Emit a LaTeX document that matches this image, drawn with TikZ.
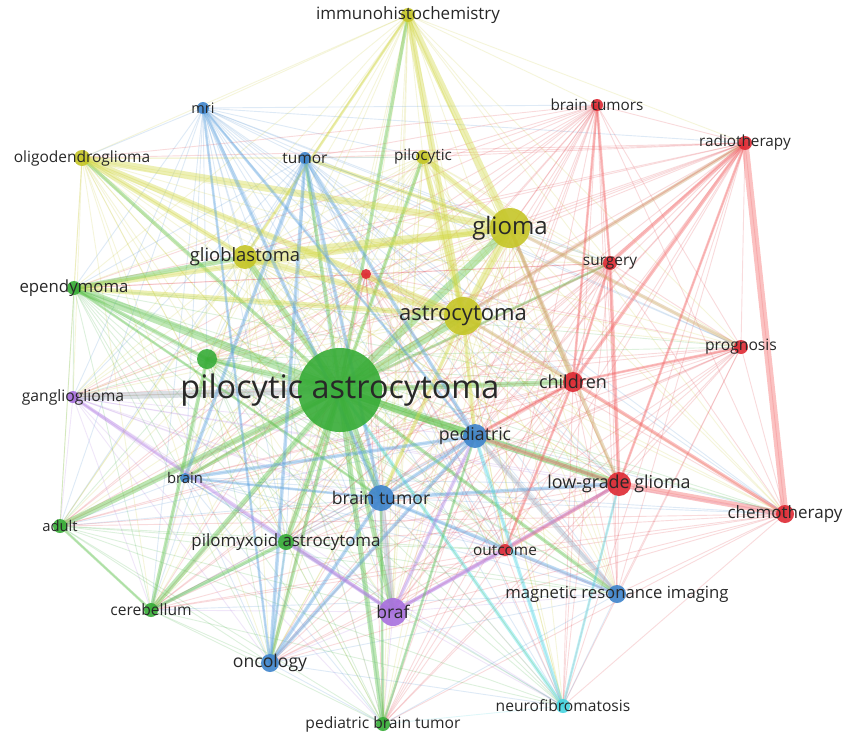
\documentclass[tikz,border=0pt]{standalone}
\usepackage{fontspec}
\setmainfont{Open Sans}
\pgfdeclarelayer{bg}
\pgfsetlayers{bg,main}
\definecolor{vyel}{RGB}{198,198,40}
\definecolor{vgreen}{RGB}{55,172,55}
\definecolor{vblue}{RGB}{62,132,204}
\definecolor{vred}{RGB}{222,42,52}
\definecolor{vpurp}{RGB}{168,112,222}
\definecolor{vcyan}{RGB}{70,212,224}
\definecolor{labc}{RGB}{40,40,40}
\definecolor{eyel}{RGB}{212,218,70}
\definecolor{egreen}{RGB}{95,195,75}
\definecolor{eblue}{RGB}{95,165,225}
\definecolor{ered}{RGB}{245,100,100}
\definecolor{epurp}{RGB}{185,135,232}
\definecolor{ecyan}{RGB}{80,222,232}
\definecolor{egray}{RGB}{168,178,192}
\definecolor{etan}{RGB}{205,165,110}
\tikzset{
  vn/.style={circle, inner sep=0pt, minimum size=#1, draw=none},
  lab/.style={text=labc, inner sep=0pt, font=\fontsize{#1}{#1}\selectfont},
  faint/.style={line width=0.9pt, opacity=0.17},
  heavy/.style={opacity=0.4, line cap=round},
}
\begin{document}
\begin{tikzpicture}[x=1pt,y=-1pt]
\useasboundingbox (0,0) rectangle (844,739);
% nodes
\foreach \id/\x/\y/\r/\c/\t/\s in {
 ihc/408/15/7/vyel/immunohistochemistry/17,
 mri/203/108/6/vblue/mri/14.5,
 btumors/597/105/6/vred/brain tumors/15.3,
 radio/745/143/7/vred/radiotherapy/15.3,
 oligo/82/158/8/vyel/oligodendroglioma/15.5,
 tumor/305/158/6/vblue/tumor/15.5,
 piloc/423/157/7/vyel/pilocytic/15.3,
 glioma/510/228/20/vyel/glioma/24,
 gbm/245/257/12/vyel/glioblastoma/18.4,
 surgery/610/263/7/vred/surgery/15.4,
 rdot/366/274/5/vred/{}/14,
 epend/74/288/7/vgreen/ependymoma/16.8,
 astro/463/316/19/vyel/astrocytoma/22,
 gdot/207/359/10/vgreen/{}/14,
 progn/741/347/7/vred/prognosis/15.7,
 pa/340/390/42/vgreen/pilocytic astrocytoma/32.4,
 children/573/382/10/vred/children/18,
 gang/73/397/6/vpurp/ganglioglioma/15.7,
 ped/475/436/12/vblue/pediatric/17.7,
 brain/185/478/5/vblue/brain/14.8,
 btumor/381/498/13/vblue/brain tumor/17.6,
 lgg/619/484/12/vred/low-grade glioma/17.9,
 chemo/785/514/9/vred/chemotherapy/17,
 adult/60/526/7/vgreen/adult/14.8,
 pmxa/286/542/8/vgreen/pilomyxoid astrocytoma/16.9,
 outcome/505/550/6/vred/outcome/15.4,
 braf/393/612/14/vpurp/braf/17.5,
 mrimg/617/594/9/vblue/magnetic resonance imaging/16.7,
 cereb/151/610/7/vgreen/cerebellum/15.6,
 onc/270/663/9/vblue/oncology/17.6,
 nf/563/706/7/vcyan/neurofibromatosis/15.6,
 pbt/383/724/7/vgreen/pediatric brain tumor/15.6}{
 \xglobal\colorlet{col-\id}{\c}
 \node[vn=\r*2pt, fill=\c, opacity=0.9] (\id) at (\x,\y) {};
 \node[lab=\s] (\id-l) at (\x,\y) {\t};
}
\begin{pgfonlayer}{bg}
\fill[white] (0,0) rectangle (844,739);
% faint network of all pairs
\foreach \a [count=\i] in {ihc,mri,btumors,radio,oligo,tumor,piloc,glioma,gbm,surgery,rdot,epend,astro,gdot,progn,pa,children,gang,ped,brain,btumor,lgg,chemo,adult,pmxa,outcome,braf,mrimg,cereb,onc,nf,pbt}{
  \foreach \b [count=\j] in {ihc,mri,btumors,radio,oligo,tumor,piloc,glioma,gbm,surgery,rdot,epend,astro,gdot,progn,pa,children,gang,ped,brain,btumor,lgg,chemo,adult,pmxa,outcome,braf,mrimg,cereb,onc,nf,pbt}{
    \ifnum\j>\i
      \draw[faint, draw=col-\a] (\a.center) -- (\b.center);
    \fi
  }
}
% heavier links
\foreach \a/\b/\w/\c in {
 pa/glioma/8/egreen, pa/astro/8/egreen, pa/gbm/6/egreen, pa/epend/8/egreen,
 pa/oligo/3.5/egreen, pa/gang/7/egray, pa/adult/6/egreen, pa/cereb/5/egreen,
 pa/pmxa/5/egreen, pa/btumor/5/egreen, pa/ped/7/egreen, pa/children/5/egreen,
 pa/lgg/7/egreen, pa/braf/5/egreen, pa/onc/3.5/egreen, pa/pbt/5/egreen,
 pa/ihc/3.5/egreen, pa/piloc/3.5/egreen, pa/tumor/3.5/egreen, pa/gdot/5/egreen,
 pa/mrimg/3.5/egreen, pa/nf/3.5/ecyan, pa/surgery/2.5/egreen, pa/brain/3.5/egreen,
 glioma/gbm/8/eyel, glioma/ihc/7/eyel, glioma/astro/7/eyel, glioma/oligo/7/eyel,
 glioma/epend/5/eyel, glioma/piloc/5/eyel, glioma/children/3.5/etan, glioma/lgg/3.5/etan,
 glioma/tumor/3.5/eyel, glioma/progn/3.5/etan,
 astro/gbm/6/eyel, astro/ihc/6/eyel, astro/oligo/6/eyel, astro/epend/5/eyel,
 astro/piloc/5/eyel, astro/children/3.5/etan, astro/ped/3.5/eyel, astro/radio/3.5/etan,
 astro/btumor/3.5/eyel,
 gbm/epend/5/egreen, gbm/oligo/5/eyel, gbm/ihc/2.5/eyel,
 epend/gdot/3.5/egreen, epend/btumor/2.5/egreen,
 chemo/radio/7/ered, chemo/lgg/6/ered, chemo/children/3.5/ered, radio/children/3.5/ered,
 radio/surgery/3.5/ered, radio/lgg/2.5/ered, surgery/lgg/3.5/ered, surgery/children/2.5/ered,
 btumors/children/2.5/ered, btumors/surgery/2.5/ered, progn/children/2.5/ered,
 outcome/lgg/3.5/ered, outcome/children/2.5/ered,
 btumor/braf/6/egray, mri/btumor/3.5/eblue, mri/ped/2.5/eblue, mri/onc/2.5/eblue,
 tumor/btumor/3.5/eblue, tumor/ped/3.5/eblue, tumor/onc/3.5/eblue, tumor/brain/3.5/eblue,
 ped/mrimg/5/egray, ped/btumor/3.5/eblue, ped/onc/3.5/eblue, ped/children/3.5/ered,
 ped/lgg/3.5/ered, brain/ped/3.5/eblue, brain/btumor/2.5/eblue,
 btumor/lgg/3.5/eblue, btumor/onc/3.5/eblue, btumor/mrimg/3.5/eblue,
 braf/pmxa/3.5/epurp, braf/gang/3.5/epurp, braf/outcome/3.5/epurp, braf/lgg/3.5/epurp,
 braf/ped/3.5/epurp, nf/ped/3.5/ecyan, nf/lgg/2.5/ecyan,
 adult/cereb/2.5/egreen, cereb/pmxa/3.5/egreen, cereb/gdot/3.5/egreen,
 pbt/ped/2.5/egreen, pbt/btumor/2.5/egreen, onc/pmxa/2.5/eblue}{
 \draw[heavy, line width=\w pt, draw=\c] (\a.center) -- (\b.center);
}
\end{pgfonlayer}
\end{tikzpicture}
\end{document}
